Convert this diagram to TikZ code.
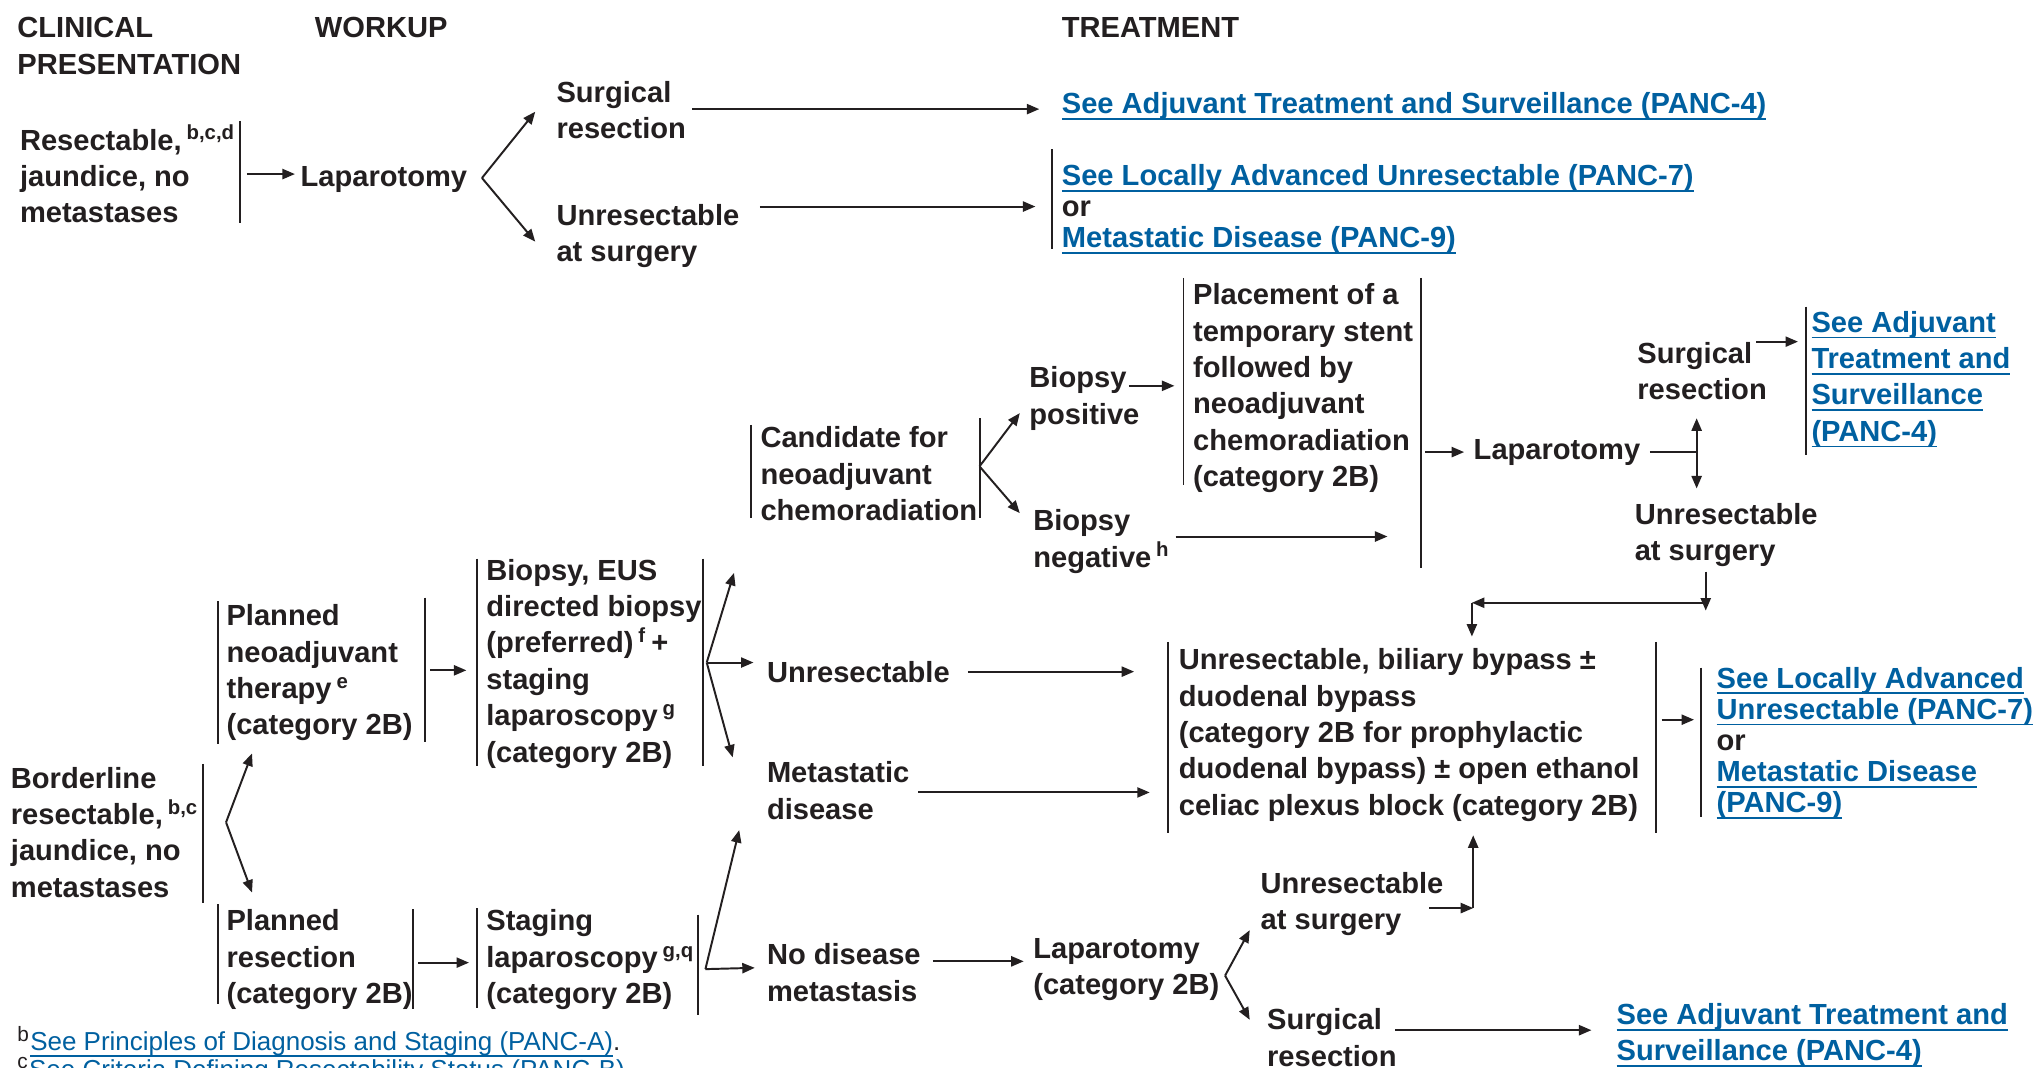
\documentclass[tikz,border=0pt]{standalone}
\usepackage{fontspec}
\setmainfont{Liberation Sans}
\usetikzlibrary{arrows.meta}
\definecolor{tc}{RGB}{35,31,32}
\definecolor{linkc}{RGB}{0,96,160}
\newsavebox\lkbox
\newcommand\lk[1]{\textcolor{linkc}{\sbox\lkbox{#1}\rlap{\rule[-2.4pt]{\wd\lkbox}{0.7pt}}\usebox\lkbox}}
\newcommand\sups[1]{\,\smash{\textsuperscript{#1}}}
\tikzset{
  txt/.style={anchor=north west, inner sep=0pt, align=left, text=tc,
    font=\bfseries\fontsize{11.2pt}{14pt}\selectfont},
  tight/.style={font=\bfseries\fontsize{11.2pt}{12pt}\selectfont},
  fnote/.style={anchor=north west, inner sep=0pt, align=left, text=tc,
    font=\fontsize{10pt}{10.6pt}\selectfont},
  bar/.style={draw=tc, line width=0.75pt},
  arr/.style={draw=tc, line width=0.75pt, -{Triangle[length=4.8pt,width=3.9pt]}},
  dbl/.style={draw=tc, line width=0.75pt, {Triangle[length=4.8pt,width=3.9pt]}-{Triangle[length=4.8pt,width=3.9pt]}},
  ln/.style={draw=tc, line width=0.75pt}
}
\begin{document}
\begin{tikzpicture}[x=0.5pt,y=-0.5pt]
\useasboundingbox[fill=white] (0,0) rectangle (1568,822);

% headers
\node[txt] (h1) at (13,13) {CLINICAL\\PRESENTATION};
\node[txt] (h2) at (242,13) {WORKUP};
\node[txt] (h3) at (817,13) {TREATMENT};

% top section
\node[txt] (res) at (15,99) {Resectable,\sups{b,c,d}\\jaundice, no\\metastases};
\draw[bar] (185,93) -- (185,172);
\node[txt] (lap1) at (231,128) {Laparotomy};
\node[txt] (sr1) at (428,62) {Surgical\\resection};
\node[txt] (ur1) at (428,157) {Unresectable\\at surgery};
\node[txt] (adj1) at (817,71) {\lk{See Adjuvant Treatment and Surveillance (PANC-4)}};
\node[txt,tight] (lau1) at (817,126) {\lk{See Locally Advanced Unresectable (PANC-7)}\\or\\\lk{Metastatic Disease (PANC-9)}};
\draw[bar] (810,115) -- (810,192);

\coordinate (c1a) at (190,134); \coordinate (c1b) at (227,134);
\draw[arr] (c1a) -- (c1b);
\coordinate (b1) at (371,137);
\coordinate (b1u) at (412,86); \coordinate (b1d) at (412,186);
\draw[arr] (b1) -- (b1u);
\draw[arr] (b1) -- (b1d);
\coordinate (c3a) at (533,84); \coordinate (c3b) at (800,84);
\draw[arr] (c3a) -- (c3b);
\coordinate (c4a) at (585,159); \coordinate (c4b) at (797,159);
\draw[arr] (c4a) -- (c4b);

% middle section
\node[txt] (cand) at (585,328) {Candidate for\\neoadjuvant\\chemoradiation};
\draw[bar] (578,327) -- (578,399);
\draw[bar] (754,322) -- (754,399);
\coordinate (b2) at (754,359);
\coordinate (b2u) at (785,318); \coordinate (b2d) at (785,395);
\draw[arr] (b2) -- (b2u);
\draw[arr] (b2) -- (b2d);
\node[txt] (bpos) at (792,282) {Biopsy\\positive};
\coordinate (c6a) at (869,297); \coordinate (c6b) at (904,297);
\draw[arr] (c6a) -- (c6b);
\draw[bar] (911,214) -- (911,373);
\node[txt] (place) at (918,218) {Placement of a\\temporary stent\\followed by\\neoadjuvant\\chemoradiation\\(category 2B)};
\node[txt] (bneg) at (795,392) {Biopsy\\negative\sups{h}};
\coordinate (c7a) at (905,413); \coordinate (c7b) at (1068,413);
\draw[arr] (c7a) -- (c7b);
\draw[bar] (1094,214) -- (1094,437);
\coordinate (c8a) at (1097,348); \coordinate (c8b) at (1127,348);
\draw[arr] (c8a) -- (c8b);
\node[txt] (lap2) at (1134,338) {Laparotomy};
\coordinate (c9a) at (1270,348); \coordinate (c9b) at (1306,348);
\draw[ln] (c9a) -- (c9b);
\coordinate (d1) at (1306,322); \coordinate (d2) at (1306,376);
\draw[dbl] (d1) -- (d2);
\node[txt] (sr2) at (1260,263) {Surgical\\resection};
\coordinate (c10a) at (1352,263); \coordinate (c10b) at (1384,263);
\draw[arr] (c10a) -- (c10b);
\draw[bar] (1390,236) -- (1390,350);
\node[txt] (adj2) at (1394,239) {\lk{See Adjuvant}\\\lk{Treatment and}\\\lk{Surveillance}\\\lk{(PANC-4)}};
\node[txt] (ur2) at (1258,387) {Unresectable\\at surgery};
\coordinate (c11a) at (1313,440); \coordinate (c11b) at (1313,470);
\coordinate (c11c) at (1313,464); \coordinate (c11d) at (1133,464);
\coordinate (c11e) at (1133,490);
\draw[arr] (c11a) -- (c11b);
\draw[arr] (c11c) -- (c11d);
\draw[arr] (c11d) -- (c11e);

% lower section
\node[txt] (pnt) at (174,465) {Planned\\neoadjuvant\\therapy\sups{e}\\(category 2B)};
\draw[bar] (168,463) -- (168,573);
\draw[bar] (327,460) -- (327,571);
\coordinate (c12a) at (331,516); \coordinate (c12b) at (359,516);
\draw[arr] (c12a) -- (c12b);
\draw[bar] (367,430) -- (367,590);
\node[txt] (beus) at (374,430) {Biopsy, EUS\\directed biopsy\\(preferred)\sups{f}\,+\\staging\\laparoscopy\sups{g}\\(category 2B)};
\draw[bar] (541,430) -- (541,590);
\coordinate (b3) at (544,510);
\coordinate (b3u) at (565,441); \coordinate (b3r) at (580,510); \coordinate (b3d) at (564,583);
\draw[arr] (b3) -- (b3u);
\draw[arr] (b3) -- (b3r);
\draw[arr] (b3) -- (b3d);

\node[txt] (border) at (8,590) {Borderline\\resectable,\sups{b,c}\\jaundice, no\\metastases};
\draw[bar] (156,588) -- (156,695);
\coordinate (b4) at (174,633);
\coordinate (b4u) at (194,580); \coordinate (b4d) at (194,687);
\draw[arr] (b4) -- (b4u);
\draw[arr] (b4) -- (b4d);

\node[txt] (pres) at (174,700) {Planned\\resection\\(category 2B)};
\draw[bar] (168,696) -- (168,773);
\draw[bar] (318,700) -- (318,777);
\coordinate (c15a) at (322,741); \coordinate (c15b) at (361,741);
\draw[arr] (c15a) -- (c15b);
\draw[bar] (367,699) -- (367,776);
\node[txt] (stag) at (374,700) {Staging\\laparoscopy\sups{g,q}\\(category 2B)};
\draw[bar] (537,704) -- (537,781);
\coordinate (b5) at (543,746);
\coordinate (b5u) at (569,639); \coordinate (b5r) at (581,745);
\draw[arr] (b5) -- (b5u);
\draw[arr] (b5) -- (b5r);

\node[txt] (unr) at (590,509) {Unresectable};
\coordinate (c17a) at (745,517); \coordinate (c17b) at (873,517);
\draw[arr] (c17a) -- (c17b);
\node[txt] (meta) at (590,586) {Metastatic\\disease};
\coordinate (c18a) at (707,610); \coordinate (c18b) at (885,610);
\draw[arr] (c18a) -- (c18b);
\node[txt] (nodis) at (590,726) {No disease\\metastasis};
\coordinate (c19a) at (718,740); \coordinate (c19b) at (788,740);
\draw[arr] (c19a) -- (c19b);
\node[txt] (lap3) at (795,722) {Laparotomy\\(category 2B)};
\coordinate (b6) at (943,751);
\coordinate (b6u) at (962,716); \coordinate (b6d) at (962,785);
\draw[arr] (b6) -- (b6u);
\draw[arr] (b6) -- (b6d);
\node[txt] (ur3) at (970,671) {Unresectable\\at surgery};
\coordinate (c21a) at (1100,699); \coordinate (c21b) at (1134,699);
\coordinate (c21c) at (1134,643);
\draw[arr] (c21a) -- (c21b);
\draw[arr] (c21b) -- (c21c);
\node[txt] (sr3) at (975,776) {Surgical\\resection};
\coordinate (c22a) at (1074,793); \coordinate (c22b) at (1225,793);
\draw[arr] (c22a) -- (c22b);
\node[txt] (adj3) at (1244,772) {\lk{See Adjuvant Treatment and}\\\lk{Surveillance (PANC-4)}};

\draw[bar] (899,494) -- (899,641);
\node[txt] (big) at (907,499) {Unresectable, biliary bypass \textpm\\duodenal bypass\\(category 2B for prophylactic\\duodenal bypass) \textpm{} open ethanol\\celiac plexus block (category 2B)};
\draw[bar] (1275,494) -- (1275,641);
\coordinate (c23a) at (1279,554); \coordinate (c23b) at (1304,554);
\draw[arr] (c23a) -- (c23b);
\draw[bar] (1309,514) -- (1309,629);
\node[txt,tight] (lau2) at (1321,513) {\lk{See Locally Advanced}\\\lk{Unresectable (PANC-7)}\\or\\\lk{Metastatic Disease}\\\lk{(PANC-9)}};

% footnotes
\node[fnote] (fn) at (13,794) {\smash{\textsuperscript{\fontsize{8pt}{8pt}\selectfont b}}\lk{See Principles of Diagnosis and Staging (PANC-A)}.\\\smash{\textsuperscript{\fontsize{8pt}{8pt}\selectfont c}}\lk{See Criteria Defining Resectability Status (PANC-B)}.};
\end{tikzpicture}
\end{document}
